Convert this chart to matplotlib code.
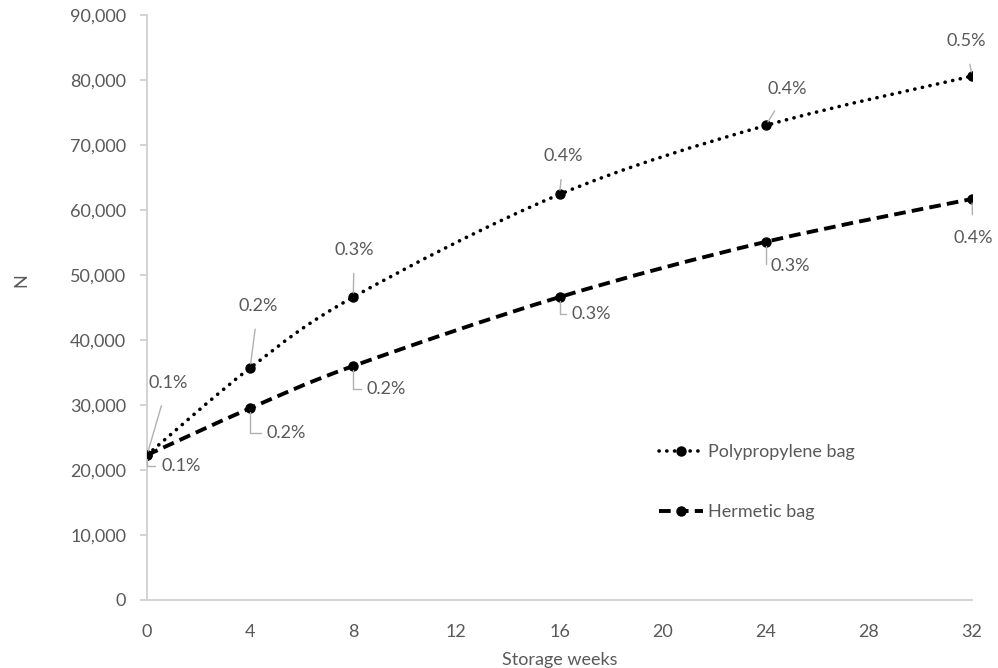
import matplotlib
matplotlib.use("Agg")
import matplotlib.pyplot as plt
from matplotlib.path import Path
from matplotlib.patches import PathPatch
from matplotlib.lines import Line2D
from matplotlib.ticker import FuncFormatter
import numpy as np

plt.rcParams['font.family'] = ['Lato', 'DejaVu Sans']

weeks = [0, 4, 8, 16, 24, 32]
polypropylene = [22300, 35700, 46600, 62400, 73000, 80600]
hermetic = [22300, 29500, 36000, 46600, 55100, 61700]
pp_labels = ["0.1%", "0.2%", "0.3%", "0.4%", "0.4%", "0.5%"]
he_labels = ["0.1%", "0.2%", "0.2%", "0.3%", "0.3%", "0.4%"]
series_names = ["Polypropylene bag", "Hermetic bag"]

TXT = '#595959'
AXC = '#d0d0d0'
LEAD = '#b0b0b0'

fig = plt.figure(figsize=(9.98, 6.68), dpi=100)
ax = fig.add_axes([147/998, 68/668, 825/998, 585/668])
ax.set_xlim(0, 32)
ax.set_ylim(0, 90000)


def smooth_path(xs, ys):
    # Excel-like smoothed line: cubic Bezier segments (Catmull-Rom style)
    pts = np.column_stack([xs, ys]).astype(float)
    n = len(pts)
    verts = [pts[0]]
    codes = [Path.MOVETO]
    for i in range(n - 1):
        p0 = pts[i - 1] if i > 0 else pts[i]
        p1 = pts[i]
        p2 = pts[i + 1]
        p3 = pts[i + 2] if i + 2 < n else pts[i + 1]
        c1 = p1 + (p2 - p0) / 6.0
        c2 = p2 - (p3 - p1) / 6.0
        verts += [c1, c2, p2]
        codes += [Path.CURVE4] * 3
    return Path(verts, codes)


pp_style = dict(linestyle=(0, (0.05, 2.1)), linewidth=2.6)
he_style = dict(linestyle=(0, (3.0, 1.6)), linewidth=2.8)

p1 = PathPatch(smooth_path(weeks, polypropylene), facecolor='none', edgecolor='black',
               capstyle='round', zorder=3, **pp_style)
ax.add_patch(p1)
p2 = PathPatch(smooth_path(weeks, hermetic), facecolor='none', edgecolor='black',
               capstyle='butt', zorder=3, **he_style)
ax.add_patch(p2)

ax.plot(weeks, polypropylene, linestyle='none', marker='o', color='black', markersize=6.5, zorder=4)
ax.plot(weeks, hermetic, linestyle='none', marker='o', color='black', markersize=6.5, zorder=4)

# data labels with leader lines (offsets in pixels)
pp_off = [(21, 72), (8, 62), (1, 47), (4, 38), (22, 36), (-6, 35)]
for x, y, lab, off in zip(weeks, polypropylene, pp_labels, pp_off):
    ax.annotate(lab, xy=(x, y), xytext=off, textcoords='offset pixels',
                ha='center', va='center', fontsize=13, color=TXT,
                arrowprops=dict(arrowstyle='-', color=LEAD, lw=1.0,
                                shrinkA=9, shrinkB=3), zorder=5)

he_off = [(14, -11), (16, -25), (13, -23), (12, -17), (5, -24)]
for x, y, lab, off in zip(weeks[:5], hermetic[:5], he_labels[:5], he_off):
    ax.annotate(lab, xy=(x, y), xytext=off, textcoords='offset pixels',
                ha='left', va='center', fontsize=13, color=TXT,
                arrowprops=dict(arrowstyle='-', color=LEAD, lw=1.0,
                                connectionstyle='angle,angleA=0,angleB=90,rad=0',
                                relpos=(0, 0.5), shrinkA=2, shrinkB=3), zorder=5)
ax.annotate(he_labels[5], xy=(weeks[5], hermetic[5]), xytext=(1, -39), textcoords='offset pixels',
            ha='center', va='center', fontsize=13, color=TXT,
            arrowprops=dict(arrowstyle='-', color=LEAD, lw=1.0, shrinkA=9, shrinkB=3), zorder=5)

# axes styling
for s in ['top', 'right']:
    ax.spines[s].set_visible(False)
ax.spines['left'].set_color(AXC)
ax.spines['bottom'].set_color(AXC)
ax.spines['left'].set_linewidth(1.3)
ax.spines['bottom'].set_linewidth(1.3)
ax.set_xticks(range(0, 33, 4))
ax.set_yticks(range(0, 90001, 10000))
ax.yaxis.set_major_formatter(FuncFormatter(lambda v, p: f"{int(v):,}"))
ax.tick_params(axis='y', length=5, width=1.3, color=AXC, labelcolor=TXT, labelsize=13, pad=10)
ax.tick_params(axis='x', length=0, labelcolor=TXT, labelsize=13, pad=17)
ax.set_xlabel("Storage weeks", fontsize=13, color=TXT, labelpad=9)
ax.set_ylabel("N", fontsize=13, color=TXT)
ax.yaxis.set_label_coords(-0.142, 0.547)

handles = [Line2D([], [], color='black', marker='o', markersize=6.5, dash_capstyle='round', **pp_style),
           Line2D([], [], color='black', marker='o', markersize=6.5, **he_style)]
leg = ax.legend(handles, series_names, loc='upper left', bbox_to_anchor=(505/825, (600-437)/585),
                frameon=False, fontsize=13, labelcolor=TXT, handlelength=2.4, handletextpad=0.3,
                labelspacing=2.45, borderaxespad=0)

fig.savefig("out.png", dpi=100)
